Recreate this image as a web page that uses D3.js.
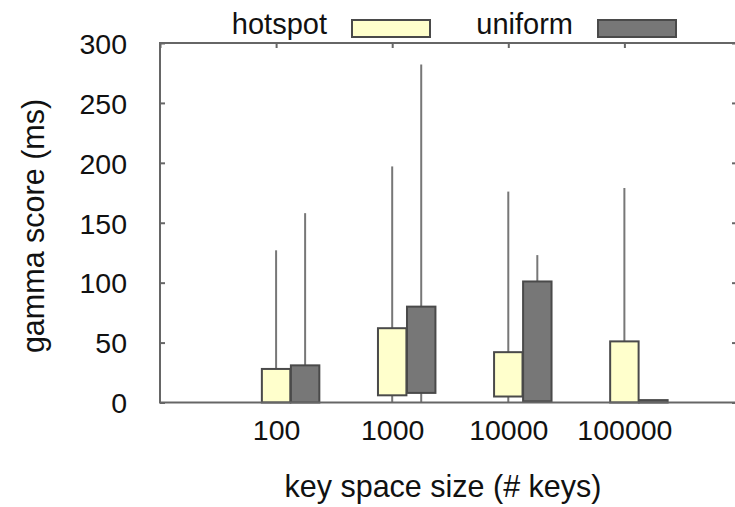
<!DOCTYPE html>
<html>
<head>
<meta charset="utf-8">
<script src="https://cdn.jsdelivr.net/npm/d3@7.9.0/dist/d3.min.js"></script>
<style>
  body { margin: 0; background: #fff; }
  svg text { font-family: "Liberation Sans", Arial, sans-serif; fill: #111; }
</style>
</head>
<body>
<svg id="chart" width="735" height="507"></svg>
<script>
// key space sizes (x categories)
const categories = ['100', '1000', '10000', '100000'];
const series = ['hotspot', 'uniform'];

// hotspot candlesticks: box low/high, whisker min/max (ms)
const hotspotBoxLow = [0, 6, 5, 0];
const hotspotBoxHigh = [28, 62, 42, 51];
const hotspotMin = [0, 0, 0, 0];
const hotspotMax = [127, 197, 176, 179];

// uniform candlesticks
const uniformBoxLow = [0, 8, 1, 0];
const uniformBoxHigh = [31, 80, 101, 2];
const uniformMin = [0, 0, 0, 0];
const uniformMax = [158, 282, 123, 2];

const yTicks = [0, 50, 100, 150, 200, 250, 300];

const svg = d3.select('#chart');
const margin = { left: 160, right: 737, top: 43, bottom: 402.5 };

// x in "slot" units: category i sits at i + 1, uniform box shifted right
const x = d3.scaleLinear().domain([0, 4.97]).range([margin.left, margin.right]);
const y = d3.scaleLinear().domain([0, 300]).range([margin.bottom, margin.top]);

const fills = { hotspot: '#ffffcc', uniform: '#777777' };
const offsets = { hotspot: 0, uniform: 0.25 };
const boxW = 0.245;

// build rows from the arrays
const rows = [];
categories.forEach((c, i) => {
  rows.push({ s: 'hotspot', i, lo: hotspotBoxLow[i], hi: hotspotBoxHigh[i], min: hotspotMin[i], max: hotspotMax[i] });
  rows.push({ s: 'uniform', i, lo: uniformBoxLow[i], hi: uniformBoxHigh[i], min: uniformMin[i], max: uniformMax[i] });
});
const cx = (d) => x(d.i + 1 + offsets[d.s]);

// whiskers (drawn under the boxes)
svg.append('g').selectAll('line')
  .data(rows)
  .join('line')
  .attr('x1', cx).attr('x2', cx)
  .attr('y1', (d) => y(d.min)).attr('y2', (d) => y(d.max))
  .attr('stroke', '#777')
  .attr('stroke-width', 2);

// boxes
const bw = x(boxW) - x(0);
svg.append('g').selectAll('rect')
  .data(rows)
  .join('rect')
  .attr('x', (d) => cx(d) - bw / 2)
  .attr('width', bw)
  .attr('y', (d) => y(d.hi))
  .attr('height', (d) => y(d.lo) - y(d.hi))
  .attr('fill', (d) => fills[d.s])
  .attr('stroke', '#4a4a4a')
  .attr('stroke-width', 2);

// frame
svg.append('rect')
  .attr('x', margin.left).attr('y', margin.top)
  .attr('width', margin.right - margin.left)
  .attr('height', margin.bottom - margin.top)
  .attr('fill', 'none')
  .attr('stroke', '#666')
  .attr('stroke-width', 2);

// y ticks, both sides pointing inward
const yAxisL = d3.axisLeft(y).tickValues(yTicks).tickSize(-5).tickPadding(33);
const gy = svg.append('g').attr('transform', `translate(${margin.left},0)`).call(yAxisL);
gy.select('.domain').remove();
gy.selectAll('line').attr('stroke', '#666').attr('stroke-width', 2);
gy.selectAll('text').attr('font-size', 28.5).attr('dy', '0.36em');

const gyR = svg.append('g').attr('transform', `translate(${margin.right},0)`)
  .call(d3.axisRight(y).tickValues(yTicks).tickSize(-5).tickFormat(''));
gyR.select('.domain').remove();
gyR.selectAll('line').attr('stroke', '#666').attr('stroke-width', 2);

// x ticks: marks on the top edge, labels under the bottom edge
const gxT = svg.append('g').attr('transform', `translate(0,${margin.top})`)
  .call(d3.axisTop(x).tickValues([0, 1, 2, 3, 4]).tickSize(-5).tickFormat(''));
gxT.select('.domain').remove();
gxT.selectAll('line').attr('stroke', '#666').attr('stroke-width', 2);

const gxB = svg.append('g').attr('transform', `translate(0,${margin.bottom})`)
  .call(d3.axisBottom(x).tickValues([1, 2, 3, 4]).tickSize(0).tickPadding(23)
    .tickFormat((d) => categories[d - 1]));
gxB.select('.domain').remove();
gxB.selectAll('text').attr('font-size', 28.5).attr('dy', '0.5em');

// axis titles
svg.append('text')
  .attr('x', 443).attr('y', 497)
  .attr('text-anchor', 'middle')
  .attr('font-size', 30.5)
  .text('key space size (# keys)');

svg.append('text')
  .attr('transform', 'translate(44,226) rotate(-90)')
  .attr('text-anchor', 'middle')
  .attr('font-size', 30.5)
  .text('gamma score (ms)');

// legend
const legendX = { hotspot: 327, uniform: 573 };
series.forEach((s) => {
  svg.append('text')
    .attr('x', legendX[s]).attr('y', 34)
    .attr('text-anchor', 'end')
    .attr('font-size', 29)
    .text(s);
  svg.append('rect')
    .attr('x', legendX[s] + 25).attr('y', 20)
    .attr('width', 78).attr('height', 17)
    .attr('fill', fills[s])
    .attr('stroke', '#4a4a4a')
    .attr('stroke-width', 2);
});
</script>
</body>
</html>
